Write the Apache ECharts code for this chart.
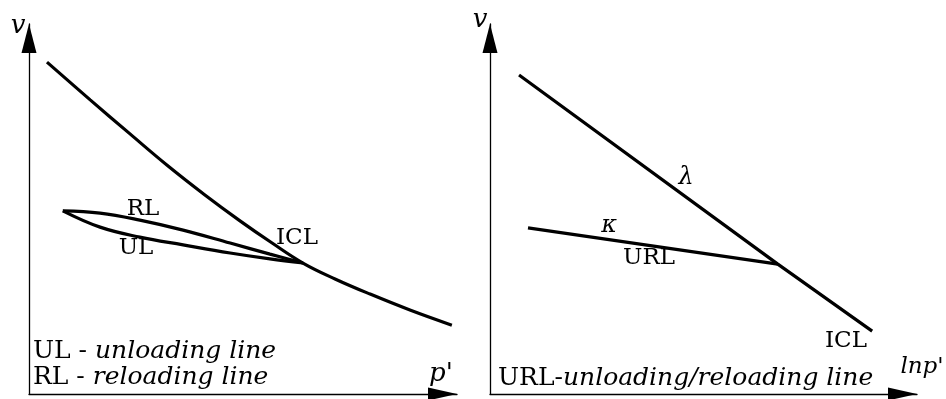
<!DOCTYPE html>
<html>
<head>
<meta charset="utf-8">
<title>ICL / URL</title>
<script src="https://cdn.jsdelivr.net/npm/echarts@6/dist/echarts.min.js"></script>
<style>
  html, body { margin: 0; padding: 0; background: #fff; }
  #chart { width: 946px; height: 399px; }
</style>
</head>
<body>
<div id="chart"></div>
<script>
// left panel: v against p'
var iclP = [0.42, 1.43, 2.36, 3.22, 4.11, 4.93, 5.68, 6.40, 7.15, 7.97, 8.90, 9.88];
var iclV = [8.97, 7.95, 7.03, 6.19, 5.38, 4.68, 4.08, 3.54, 3.11, 2.70, 2.27, 1.86];
var rlP = [0.79, 1.66, 2.59, 3.60, 4.70, 5.63, 6.40];
var rlV = [4.95, 4.89, 4.70, 4.43, 4.08, 3.78, 3.54];
var ulP = [0.79, 1.66, 2.59, 3.60, 4.70, 5.63, 6.40];
var ulV = [4.95, 4.51, 4.24, 4.03, 3.81, 3.65, 3.54];

// right panel: v against ln p'
var iclLnP = [0.68, 6.74, 8.95];
var iclLnV = [8.62, 3.51, 1.70];
var urlLnP = [0.89, 6.74];
var urlLnV = [4.49, 3.51];

function pairs(xs, ys) {
  return xs.map(function (x, i) {
    return [x, ys[i]];
  });
}

var serif = "DejaVu Serif";

function axisX(idx) {
  return {
    type: "value",
    gridIndex: idx,
    min: 0,
    max: 10,
    axisLine: {
      show: true,
      onZero: false,
      symbol: ["none", "triangle"],
      symbolSize: [13, 29],
      symbolOffset: [0, -14.5],
      lineStyle: { color: "#000", width: 1.3 },
    },
    axisTick: { show: false },
    axisLabel: { show: false },
    splitLine: { show: false },
  };
}

function axisY(idx) {
  return {
    type: "value",
    gridIndex: idx,
    min: 0,
    max: 10,
    axisLine: {
      show: true,
      onZero: false,
      symbol: ["none", "triangle"],
      symbolSize: [15, 29],
      symbolOffset: [0, -14.5],
      lineStyle: { color: "#000", width: 1.3 },
    },
    axisTick: { show: false },
    axisLabel: { show: false },
    splitLine: { show: false },
  };
}

function curve(name, xi, xs, ys, smooth) {
  return {
    name: name,
    type: "line",
    xAxisIndex: xi,
    yAxisIndex: xi,
    data: pairs(xs, ys),
    smooth: smooth,
    showSymbol: false,
    clip: false,
    silent: true,
    lineStyle: { color: "#000", width: 3.2 },
  };
}

function label(x, y, text, size, italic) {
  return {
    type: "text",
    x: x,
    y: y,
    style: {
      text: text,
      font: (italic ? "italic " : "") + size + "px '" + serif + "'",
      fill: "#000",
      textAlign: "center",
      textVerticalAlign: "middle",
    },
  };
}

function legendLine(x, y, head, tail) {
  return {
    type: "text",
    x: x,
    y: y,
    style: {
      text: "{a|" + head + "}{b|" + tail + "}",
      textVerticalAlign: "middle",
      rich: {
        a: { fontFamily: serif, fontSize: 25, fill: "#000" },
        b: { fontFamily: serif, fontSize: 25, fontStyle: "italic", fill: "#000" },
      },
    },
  };
}

var myChart = echarts.init(document.getElementById("chart"));
var option = {
  animation: false,
  backgroundColor: "#fff",
  grid: [
    { left: 29, top: 24, width: 428, height: 370 },
    { left: 490, top: 24, width: 427, height: 370 },
  ],
  xAxis: [axisX(0), axisX(1)],
  yAxis: [axisY(0), axisY(1)],
  series: [
    curve("ICL", 0, iclP, iclV, 0.4),
    curve("RL", 0, rlP, rlV, 0.4),
    curve("UL", 0, ulP, ulV, 0.4),
    curve("ICL", 1, iclLnP, iclLnV, false),
    curve("URL", 1, urlLnP, urlLnV, false),
  ],
  graphic: [
    label(18, 26, "v", 26, true),
    label(480, 20, "v", 26, true),
    label(441, 374, "p'", 26, true),
    label(922, 367, "lnp'", 23, true),
    label(143, 209, "RL", 23, false),
    label(136, 248, "UL", 23, false),
    label(297, 238, "ICL", 23, false),
    label(686, 178, "\u03bb", 24, true),
    label(609, 226, "\u03ba", 24, true),
    label(649, 258, "URL", 23, false),
    label(846, 341, "ICL", 23, false),
    legendLine(33, 351, "UL - ", "unloading line"),
    legendLine(33, 377, "RL - ", "reloading line"),
    legendLine(498, 378, "URL-", "unloading/reloading line"),
  ],
};
myChart.setOption(option);
</script>
</body>
</html>
